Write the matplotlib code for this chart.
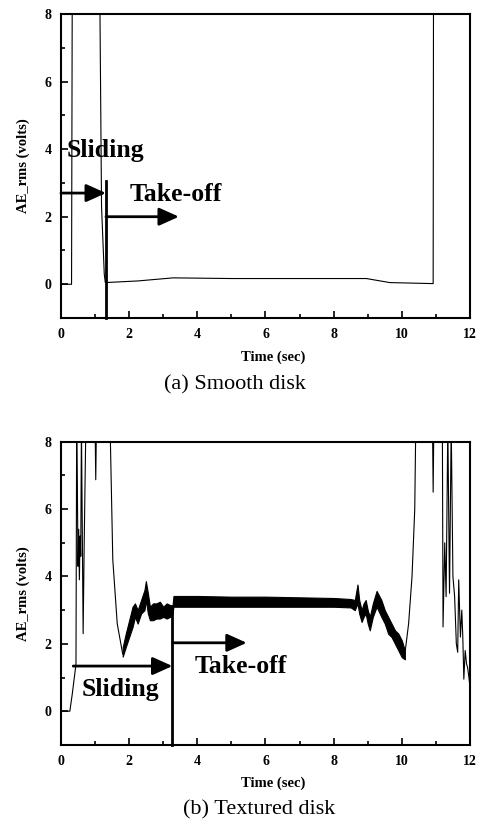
import numpy as np
import matplotlib
matplotlib.use('Agg')
import matplotlib.pyplot as plt

plt.rcParams['font.family'] = ['Liberation Serif', 'DejaVu Serif']

# (a) smooth disk, AE_rms trace (values above 8 are off scale)
t_smooth = [0.03, 0.31, 0.33, 1.14, 1.19, 1.27, 1.30, 2.27, 3.29, 5.0, 7.0, 8.96, 9.65, 10.92, 10.93, 12.0]
v_smooth = [0.0, 0.0, 8.5, 8.5, 2.3, 0.3, 0.05, 0.10, 0.19, 0.17, 0.17, 0.17, 0.05, 0.02, 8.5, 8.5]

# (b) textured disk, thin parts of the trace
t_tex_a = [0.03, 0.26, 0.33, 0.41, 0.44, 0.46, 0.48, 0.50, 0.52, 0.54, 0.56, 0.58, 0.60, 0.63,
           0.65, 0.68, 0.73, 1.00, 1.02, 1.04, 1.44, 1.52, 1.65, 1.81]
v_tex_a = [0.0, 0.0, 0.5, 1.15, 1.4, 8.5, 6.7, 4.3, 5.4, 3.9, 5.2, 4.6, 8.5, 4.8,
           2.3, 4.9, 8.5, 8.5, 6.87, 8.5, 8.5, 4.5, 2.6, 1.7]
t_tex_b = [10.09, 10.2, 10.3, 10.38, 10.41, 10.90, 10.92, 10.94, 11.19, 11.21, 11.26, 11.30,
           11.35, 11.40, 11.45, 11.50, 11.55, 11.60, 11.64, 11.67, 11.72, 11.76, 11.79, 11.82,
           11.86, 11.90, 11.93, 11.97, 12.0]
v_tex_b = [1.7, 2.6, 4.0, 6.0, 8.5, 8.5, 6.5, 8.5, 8.5, 2.5, 5.0, 3.4,
           8.5, 3.5, 8.5, 4.0, 3.4, 2.0, 1.75, 3.9, 2.2, 3.0, 2.2, 0.95,
           1.8, 1.4, 1.3, 1.0, 0.7]
# (b) noisy band, lower / upper envelope
t_band = [1.81, 1.9, 2.0, 2.1, 2.17, 2.25, 2.35, 2.45, 2.49, 2.55, 2.61, 2.7, 2.8, 2.9, 3.0,
          3.1, 3.2, 3.27, 3.3, 4.0, 5.0, 6.0, 7.0, 8.0, 8.5, 8.62, 8.70, 8.75, 8.82, 8.88,
          8.94, 9.0, 9.06, 9.15, 9.26, 9.4, 9.5, 9.6, 9.7, 9.8, 9.9, 10.0, 10.09]
lo_band = [1.62, 1.9, 2.2, 2.5, 2.8, 2.6, 2.9, 3.0, 3.3, 2.9, 2.7, 2.7, 2.75, 2.75, 2.8,
           2.75, 2.8, 2.9, 3.1, 3.1, 3.1, 3.1, 3.1, 3.1, 3.08, 3.0, 3.2, 2.9, 2.65, 2.8,
           2.9, 2.6, 2.4, 2.8, 3.1, 2.8, 2.6, 2.3, 2.2, 2.0, 1.8, 1.6, 1.54]
hi_band = [1.9, 2.3, 2.7, 3.1, 3.2, 3.0, 3.3, 3.6, 3.86, 3.5, 3.1, 3.2, 3.2, 3.25, 3.1,
           3.2, 3.15, 3.1, 3.42, 3.42, 3.4, 3.4, 3.38, 3.36, 3.33, 3.3, 3.76, 3.3, 3.0, 3.2,
           3.3, 3.0, 2.8, 3.2, 3.57, 3.3, 3.0, 2.8, 2.6, 2.4, 2.3, 2.1, 1.8]

# annotation positions
switch_t = [1.32, 3.27]
slide_y = [2.70, 1.34]
slide_x0 = [0.0, 0.36]
take_y = [2.0, 2.03]
take_x1 = [3.46, 5.45]
bar_top = [3.05, 3.12]
slide_txt = [(0.17, 3.96), (0.61, 0.65)]
take_txt = [(2.02, 2.67), (3.93, 1.34)]
captions = ['(a) Smooth disk', '(b) Textured disk']

fig = plt.figure(figsize=(4.84, 8.24), dpi=100)
ax_a = fig.add_axes([0.126, 0.614, 0.845, 0.369])
ax_b = fig.add_axes([0.126, 0.096, 0.845, 0.368])

ax_a.plot(t_smooth, v_smooth, color='black', lw=0.8)
ax_b.plot(t_tex_a, v_tex_a, color='black', lw=0.8)
ax_b.plot(t_tex_b, v_tex_b, color='black', lw=0.8)
ax_b.fill_between(t_band, lo_band, hi_band, color='black', lw=0.8)

for i, ax in enumerate([ax_a, ax_b]):
    ax.set_xlim(0, 12)
    ax.set_ylim(-1, 8)
    ax.set_xticks(np.arange(0, 13, 2))
    ax.set_xticks(np.arange(1, 12, 2), minor=True)
    ax.set_yticks(np.arange(0, 9, 2))
    ax.set_yticks(np.arange(-1, 8, 2), minor=True)
    ax.tick_params(which='both', direction='in', top=False, right=False, width=1.2)
    ax.tick_params(which='major', length=5, labelsize=10, pad=7)
    ax.tick_params(which='minor', length=3)
    for lab in ax.get_xticklabels() + ax.get_yticklabels():
        lab.set_fontweight('bold')
    for sp in ax.spines.values():
        sp.set_linewidth(1.5)
    ax.set_ylabel('AE_rms (volts)', fontsize=10.5, fontweight='bold', labelpad=10)

    # take-off marker and arrows
    ax.plot([switch_t[i], switch_t[i]], [-1, bar_top[i]], color='black', lw=2, clip_on=False)
    arrow = dict(arrowstyle='-|>,head_length=0.6,head_width=0.27', color='black', lw=2,
                 mutation_scale=20, shrinkA=0, shrinkB=0)
    ax.annotate('', xy=(switch_t[i], slide_y[i]), xytext=(slide_x0[i], slide_y[i]), arrowprops=arrow)
    ax.annotate('', xy=(take_x1[i], take_y[i]), xytext=(switch_t[i], take_y[i]), arrowprops=arrow)
    ax.text(slide_txt[i][0], slide_txt[i][1], 'Sliding', fontsize=18.5, fontweight='bold', va='center')
    ax.text(take_txt[i][0], take_txt[i][1], 'Take-off', fontsize=18.5, fontweight='bold', va='center')

fig.text(0.564, 1 - 357 / 824, 'Time (sec)', fontsize=10.5, fontweight='bold', ha='center', va='center')
fig.text(0.486, 1 - 385 / 824, captions[0], fontsize=16, ha='center', va='center')
fig.text(0.564, 1 - 783 / 824, 'Time (sec)', fontsize=10.5, fontweight='bold', ha='center', va='center')
fig.text(0.536, 1 - 810 / 824, captions[1], fontsize=16, ha='center', va='center')

plt.savefig('out.png', dpi=100)
